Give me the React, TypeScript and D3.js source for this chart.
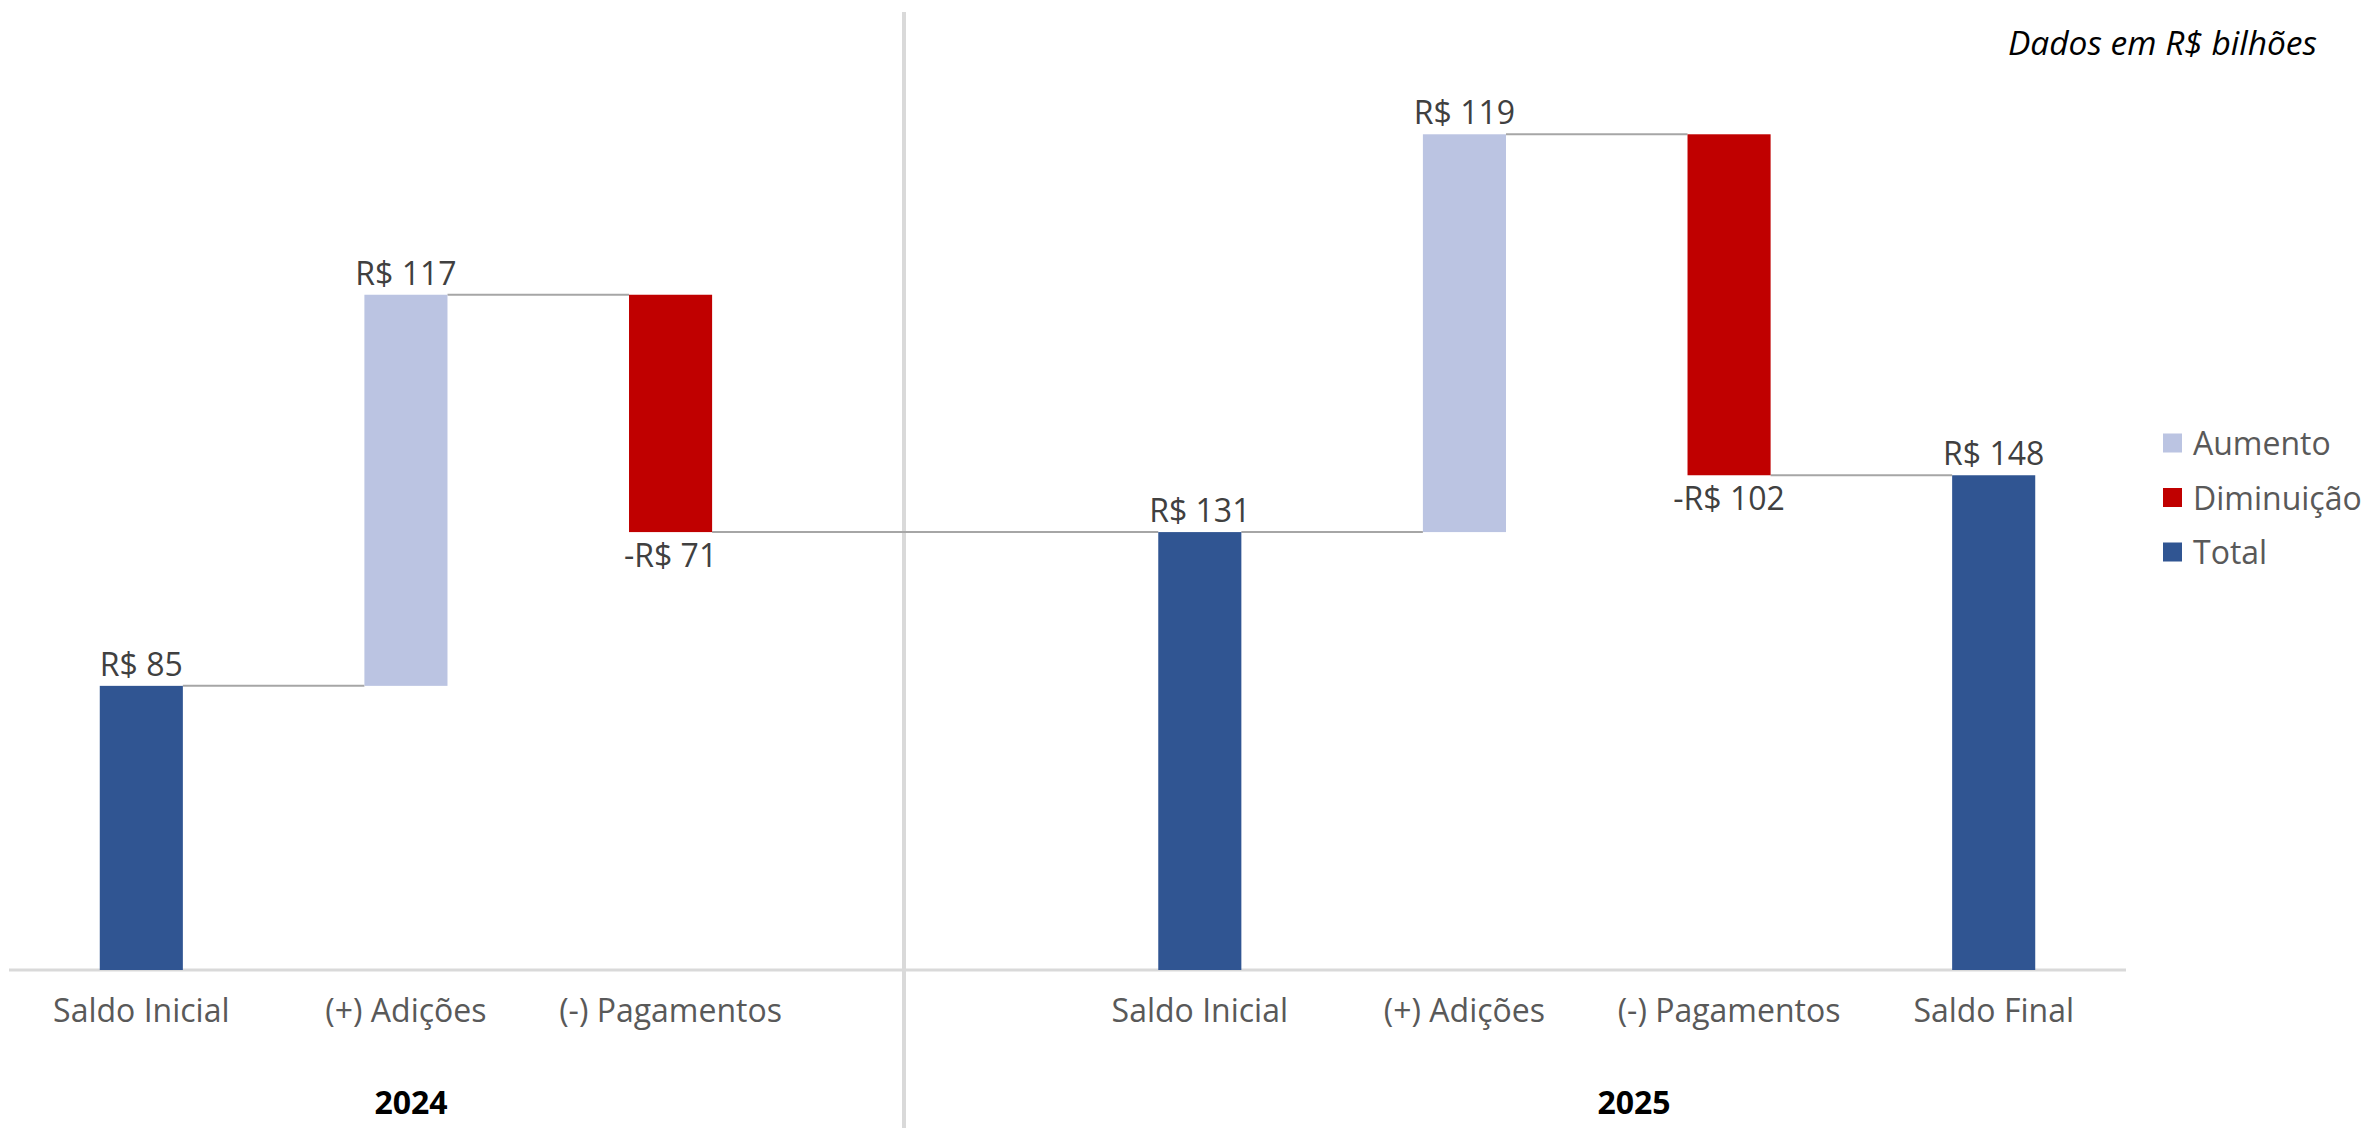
import React from "react";
import * as d3 from "d3";

const categories = ["Saldo Inicial", "(+) Adições", "(-) Pagamentos", "Saldo Inicial", "(+) Adições", "(-) Pagamentos", "Saldo Final"];
const years = ["2024", "2024", "2024", "2025", "2025", "2025", "2025"];
const values = [85, 117, -71, 131, 119, -102, 148];
const kinds = ["total", "increase", "decrease", "total", "increase", "decrease", "total"];
const slotKeys = ["s0", "s1", "s2", "gap", "s3", "s4", "s5", "s6"];
const legendItems = [
  { key: "increase", label: "Aumento" },
  { key: "decrease", label: "Diminuição" },
  { key: "total", label: "Total" },
];
const yearLabels = ["2024", "2025"];
const note = "Dados em R$ bilhões";

const W = 2369;
const H = 1128;
const FONT = "'Open Sans', 'Noto Sans', sans-serif";
const colors: Record<string, string> = { increase: "#BBC4E2", decrease: "#C00000", total: "#305592" };

export default function App() {
  const x = d3.scaleBand<string>().domain(slotKeys).range([9, 2126]).paddingInner(0.686).paddingOuter(0.343);
  const y = d3.scaleLinear().domain([0, 280]).range([970, 34]);
  const bw = x.bandwidth();

  let running = 0;
  const bars = values.map((v, i) => {
    const key = slotKeys.filter((k) => k !== "gap")[i];
    let lo: number, hi: number;
    if (kinds[i] === "total") {
      lo = 0; hi = v; running = v;
    } else if (v >= 0) {
      lo = running; hi = running + v; running = hi;
    } else {
      hi = running; lo = running + v; running = lo;
    }
    return { i, key, lo, hi, end: running, x0: x(key)!, v, kind: kinds[i], year: years[i] };
  });

  const fmt = (v: number) => (v < 0 ? "-" : "") + "R$ " + Math.abs(v);

  const yearCenters: Record<string, number> = { "2024": 411, "2025": 1634 };
  const dividerX = 904;

  return (
    <svg width={W} height={H} style={{ position: "absolute", left: 0, top: 0, background: "#fff" }} fontFamily={FONT}>
      <rect x={0} y={0} width={W} height={H} fill="#fff" />
      <line x1={dividerX} x2={dividerX} y1={12} y2={H} stroke="#D9D9D9" strokeWidth={4} />
      <line x1={9} x2={2126} y1={y(0)} y2={y(0)} stroke="#D9D9D9" strokeWidth={3} />
      {bars.slice(0, -1).map((b, idx) => {
        const nb = bars[idx + 1];
        return (
          <line key={"c" + idx} x1={b.x0 + bw} x2={nb.x0} y1={y(b.end)} y2={y(b.end)} stroke="#A6A6A6" strokeWidth={2} />
        );
      })}
      {bars.map((b) => (
        <rect key={"b" + b.i} x={b.x0} y={y(b.hi)} width={bw} height={y(b.lo) - y(b.hi)} fill={colors[b.kind]} />
      ))}
      {bars.map((b) => (
        <text
          key={"l" + b.i}
          x={b.x0 + bw / 2}
          y={b.kind === "decrease" ? y(b.lo) + 35 : y(b.hi) - 10}
          textAnchor="middle"
          fontSize={32}
          fill="#404040"
        >
          {fmt(b.v)}
        </text>
      ))}
      {bars.map((b) => (
        <text key={"t" + b.i} x={b.x0 + bw / 2} y={1022} textAnchor="middle" fontSize={32} fill="#595959">
          {categories[b.i]}
        </text>
      ))}
      {yearLabels.map((yr) => (
        <text key={yr} x={yearCenters[yr]} y={1114} textAnchor="middle" fontSize={32} fontWeight="bold" fill="#000">
          {yr}
        </text>
      ))}
      <text x={2317} y={55} textAnchor="end" fontSize={33.5} fontStyle="italic" fill="#000">
        {note}
      </text>
      {legendItems.map((it, i) => (
        <g key={it.key} transform={`translate(2163, ${443 + i * 54.5})`}>
          <rect x={0} y={-9.5} width={19} height={19} fill={colors[it.key]} />
          <text x={30} y={12} fontSize={32} fill="#595959">
            {it.label}
          </text>
        </g>
      ))}
    </svg>
  );
}
